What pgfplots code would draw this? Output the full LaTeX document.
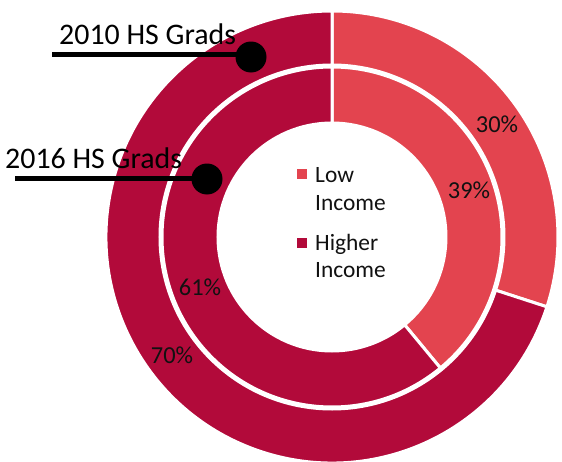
\documentclass[border=0pt]{standalone}
\usepackage{pgfplots}
\pgfplotsset{compat=1.18}
\usepackage{pgfplotstable}
\usepackage{fontspec}
\setmainfont{Carlito}

\definecolor{lowc}{HTML}{E3444F}
\definecolor{highc}{HTML}{B20A3A}
\definecolor{txt}{HTML}{111111}

% ring, inner radius, outer radius (bp), shares in %
\pgfplotstableread{
ring rin rout low high
2010 172 226 30 70
2016 114 170 39 61
}\donutdata

\pgfplotstablegetelem{0}{low}\of\donutdata \let\lowA\pgfplotsretval
\pgfplotstablegetelem{1}{low}\of\donutdata \let\lowB\pgfplotsretval
\pgfplotstablegetelem{0}{high}\of\donutdata \let\highA\pgfplotsretval
\pgfplotstablegetelem{1}{high}\of\donutdata \let\highB\pgfplotsretval
\pgfmathsetmacro{\cutA}{90-3.6*\lowA}
\pgfmathsetmacro{\cutB}{90-3.6*\lowB}

% colour, start angle, end angle, inner r, outer r
\newcommand{\seg}[5]{%
  \path[fill=#1, draw=white, line width=3bp, line join=miter]
    (axis cs:332,225) ++(#2:#5 bp)
    arc[start angle=#2, end angle=#3, radius=#5 bp]
    -- ++(#3+180:#5 bp-#4 bp)
    arc[start angle=#3, end angle=#2, radius=#4 bp] -- cycle;}

\begin{document}
\begin{tikzpicture}
\begin{axis}[
  x=1bp, y=1bp,
  xmin=0, xmax=562, ymin=0, ymax=462,
  hide axis, clip=false,
  anchor=origin, at={(0,0)},
]
\seg{lowc}{90}{\cutA}{172}{226}
\seg{highc}{\cutA}{-270}{172}{226}
\seg{lowc}{90}{\cutB}{114}{170}
\seg{highc}{\cutB}{-270}{114}{170}

% value labels
\node[txt, font=\fontsize{24.5}{28}\selectfont] at (axis cs:497,338) {\lowA\%};
\node[txt, font=\fontsize{24.5}{28}\selectfont] at (axis cs:469,272) {\lowB\%};
\node[txt, font=\fontsize{24.5}{28}\selectfont] at (axis cs:200,175) {\highB\%};
\node[txt, font=\fontsize{24.5}{28}\selectfont] at (axis cs:172,107) {\highA\%};

% legend in the hole
\fill[lowc] (axis cs:297,283) rectangle (axis cs:307,293);
\fill[highc] (axis cs:297,214) rectangle (axis cs:307,224);
\node[txt, anchor=base west, inner sep=0, font=\fontsize{23.5}{28}\selectfont] at (axis cs:315,280) {Low};
\node[txt, anchor=base west, inner sep=0, font=\fontsize{23.5}{28}\selectfont] at (axis cs:315,252) {Income};
\node[txt, anchor=base west, inner sep=0, font=\fontsize{23.5}{28}\selectfont] at (axis cs:315,212) {Higher};
\node[txt, anchor=base west, inner sep=0, font=\fontsize{23.5}{28}\selectfont] at (axis cs:315,185) {Income};

% ring callouts
\draw[black, line width=5bp] (axis cs:52,408) -- (axis cs:251,408);
\fill[black] (axis cs:251,405) circle[radius=15.5bp];
\node[black, anchor=base west, inner sep=0, font=\fontsize{30}{34}\selectfont] at (axis cs:59,417) {2010 HS Grads};
\draw[black, line width=5bp] (axis cs:15,284) -- (axis cs:207,284);
\fill[black] (axis cs:207,283) circle[radius=15.5bp];
\node[black, anchor=base west, inner sep=0, font=\fontsize{30}{34}\selectfont] at (axis cs:5,294) {2016 HS Grads};
\end{axis}
\pgfresetboundingbox
\useasboundingbox (0,0) rectangle (562bp,462bp);
\end{tikzpicture}
\end{document}
